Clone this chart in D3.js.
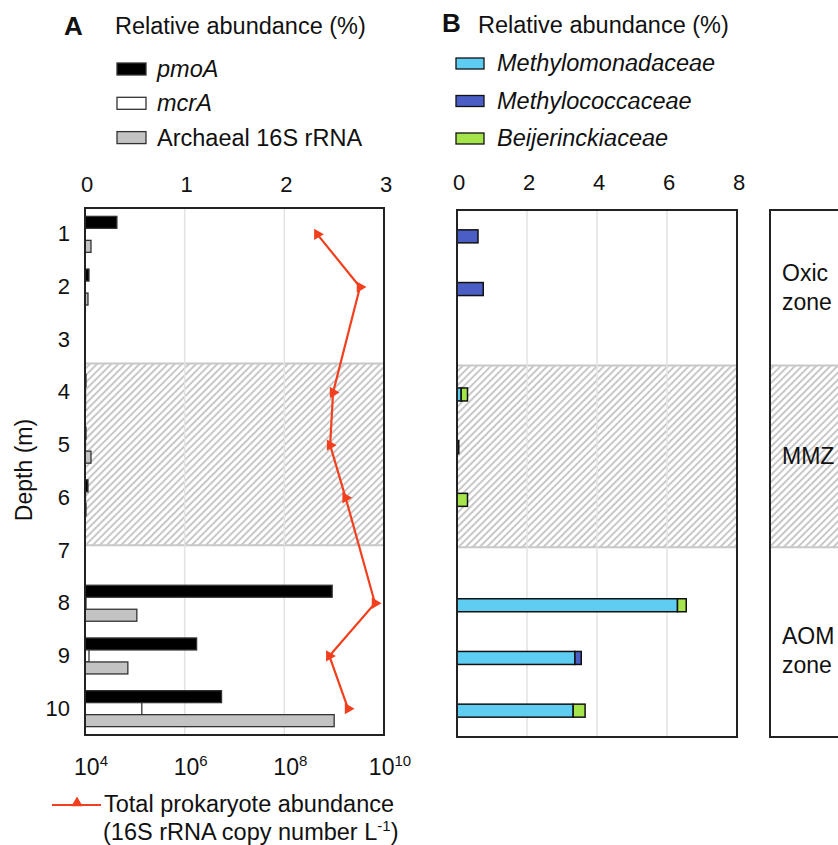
<!DOCTYPE html>
<html>
<head>
<meta charset="utf-8">
<script src="https://cdn.jsdelivr.net/npm/d3@7"></script>
<style>
body { margin: 0; background: #fff; }
#chart { width: 838px; height: 845px; }
text { font-family: Arial, "Liberation Sans", sans-serif; fill: #111; }
</style>
</head>
<body>
<div id="chart"></div>
<script>
var depths = [1, 2, 3, 4, 5, 6, 7, 8, 9, 10];

// panel A, relative abundance (%)
var pmoA     = [0.32, 0.04, null, 0.01, 0.01, 0.03, null, 2.48, 1.12, 1.37];
var mcrA     = [0, 0, null, 0.005, 0.005, 0.005, null, 0.01, 0.04, 0.57];
var archaeal = [0.06, 0.03, null, 0.005, 0.06, 0.01, null, 0.52, 0.43, 2.5];
// total prokaryote abundance (16S rRNA copies per L)
var prokaryote = [4.6e8, 3.3e9, null, 9.5e8, 8.3e8, 1.7e9, null, 6.6e9, 8.0e8, 1.9e9];

// panel B, relative abundance (%)
var methylomonadaceae = [0, 0, null, 0.12, 0, 0, null, 6.3, 3.37, 3.32];
var methylococcaceae  = [0.6, 0.75, null, 0, 0.05, 0, null, 0, 0.18, 0];
var beijerinckiaceae  = [0, 0, null, 0.18, 0, 0.3, null, 0.25, 0, 0.34];

var ticksA = [0, 1, 2, 3];
var ticksB = [0, 2, 4, 6, 8];
var logTicks = [4, 6, 8, 10];

var zoneLabels = [["Oxic", "zone"], ["MMZ"], ["AOM", "zone"]];
var zoneBounds = [0.5, 3.45, 6.9, 10.5];

var width = 838, height = 845;
var svg = d3.select("#chart").append("svg")
    .attr("width", width)
    .attr("height", height);

var defs = svg.append("defs");
var pat = defs.append("pattern")
    .attr("id", "hatch")
    .attr("patternUnits", "userSpaceOnUse")
    .attr("width", 5)
    .attr("height", 5)
    .attr("patternTransform", "rotate(45)");
pat.append("rect").attr("width", 5).attr("height", 5).attr("fill", "#fff");
pat.append("line")
    .attr("x1", 1).attr("y1", 0).attr("x2", 1).attr("y2", 5)
    .attr("stroke", "#c8c8c8").attr("stroke-width", 2);

// ---------- panel A ----------
var A = { left: 85, right: 384, top: 208, bottom: 735 };
var xA = d3.scaleLinear().domain([0, 3]).range([A.left, A.right]);
var xLog = d3.scaleLog().domain([1e4, 1e10]).range([A.left, A.right]);
var yA = d3.scaleLinear().domain([0.5, 10.5]).range([A.top, A.bottom]);

function hatchBand(g, y, x0, x1) {
    var y0 = y(zoneBounds[1]), y1 = y(zoneBounds[2]);
    g.append("rect")
        .attr("x", x0).attr("y", y0)
        .attr("width", x1 - x0).attr("height", y1 - y0)
        .attr("fill", "url(#hatch)");
    [y0, y1].forEach(function(yy) {
        g.append("line")
            .attr("x1", x0).attr("x2", x1)
            .attr("y1", yy).attr("y2", yy)
            .attr("stroke", "#c8c8c8").attr("stroke-width", 2);
    });
}

var gA = svg.append("g");
hatchBand(gA, yA, A.left, A.right);

gA.selectAll(".gridA")
    .data(ticksA.slice(1, -1))
    .enter().append("line")
    .attr("x1", function(d) { return xA(d); })
    .attr("x2", function(d) { return xA(d); })
    .attr("y1", A.top).attr("y2", A.bottom)
    .attr("stroke", "#e3e3e3").attr("stroke-width", 1.5);

var seriesA = [
    { name: "pmoA", values: pmoA, fill: "#000" },
    { name: "mcrA", values: mcrA, fill: "#fff" },
    { name: "archaeal", values: archaeal, fill: "#c3c3c3" }
];
var sub = d3.scaleBand().domain(seriesA.map(function(s) { return s.name; })).range([-18, 18]);

seriesA.forEach(function(s) {
    var pts = depths.map(function(d, i) { return { depth: d, v: s.values[i] }; })
        .filter(function(p) { return p.v !== null; });
    gA.selectAll(".bar-" + s.name)
        .data(pts)
        .enter().append("rect")
        .attr("x", xA(0))
        .attr("y", function(p) { return yA(p.depth) + sub(s.name); })
        .attr("width", function(p) { return xA(p.v) - xA(0); })
        .attr("height", sub.bandwidth())
        .attr("fill", s.fill)
        .attr("stroke", "#333")
        .attr("stroke-width", 1.3);
});

var linePts = depths.map(function(d, i) { return { depth: d, v: prokaryote[i] }; })
    .filter(function(p) { return p.v !== null; });

var lineGen = d3.line()
    .x(function(p) { return xLog(p.v); })
    .y(function(p) { return yA(p.depth); });

gA.append("path")
    .datum(linePts)
    .attr("d", lineGen)
    .attr("fill", "none")
    .attr("stroke", "#f2401e")
    .attr("stroke-width", 2.2);

var tri = d3.symbol().type(d3.symbolTriangle).size(55);
gA.selectAll(".marker")
    .data(linePts)
    .enter().append("path")
    .attr("d", tri)
    .attr("transform", function(p) { return "translate(" + xLog(p.v) + "," + yA(p.depth) + ") rotate(90)"; })
    .attr("fill", "#f2401e");

gA.append("rect")
    .attr("x", A.left).attr("y", A.top)
    .attr("width", A.right - A.left).attr("height", A.bottom - A.top)
    .attr("fill", "none").attr("stroke", "#222").attr("stroke-width", 2);

// top axis labels
gA.selectAll(".tickA")
    .data(ticksA)
    .enter().append("text")
    .attr("x", function(d) { return xA(d) + 2; })
    .attr("y", 192)
    .attr("text-anchor", "middle")
    .style("font-size", "22px")
    .text(function(d) { return d; });

// bottom log axis labels
var logLab = gA.selectAll(".tickLog")
    .data(logTicks)
    .enter().append("text")
    .attr("x", function(d) { return xLog(Math.pow(10, d)) + 6; })
    .attr("y", 775)
    .attr("text-anchor", "middle")
    .style("font-size", "23px");
logLab.append("tspan").text("10");
logLab.append("tspan")
    .attr("dy", -9)
    .style("font-size", "15px")
    .text(function(d) { return d; });

// depth labels
svg.selectAll(".depthLab")
    .data(depths)
    .enter().append("text")
    .attr("x", 70)
    .attr("y", function(d) { return yA(d) + 7; })
    .attr("text-anchor", "end")
    .style("font-size", "22px")
    .text(function(d) { return d; });

svg.append("text")
    .attr("transform", "translate(32,470) rotate(-90)")
    .attr("text-anchor", "middle")
    .style("font-size", "23px")
    .text("Depth (m)");

// legend A
svg.append("text").attr("x", 64).attr("y", 35)
    .style("font-size", "26px").style("font-weight", "bold").text("A");
svg.append("text").attr("x", 115).attr("y", 34)
    .style("font-size", "23.5px").text("Relative abundance (%)");

var legA = [
    { label: "pmoA", fill: "#000", italic: true },
    { label: "mcrA", fill: "#fff", italic: true },
    { label: "Archaeal 16S rRNA", fill: "#c3c3c3", italic: false }
];
legA.forEach(function(l, i) {
    var yy = 69 + i * 34.3;
    svg.append("rect").attr("x", 117).attr("y", yy - 6).attr("width", 29).attr("height", 12)
        .attr("fill", l.fill).attr("stroke", "#333").attr("stroke-width", 1.3);
    svg.append("text").attr("x", 157).attr("y", yy + 8)
        .style("font-size", "23.5px")
        .style("font-style", l.italic ? "italic" : "normal")
        .text(l.label);
});

// bottom legend for line
svg.append("line").attr("x1", 52).attr("x2", 101).attr("y1", 805).attr("y2", 805)
    .attr("stroke", "#f2401e").attr("stroke-width", 2.2);
svg.append("path").attr("d", tri)
    .attr("transform", "translate(77,803)")
    .attr("fill", "#f2401e");
svg.append("text").attr("x", 104).attr("y", 812)
    .style("font-size", "23.5px").text("Total prokaryote abundance");
var l2 = svg.append("text").attr("x", 103).attr("y", 840)
    .style("font-size", "23.5px");
l2.append("tspan").text("(16S rRNA copy number L");
l2.append("tspan").attr("dy", -9).style("font-size", "15px").text("-1");
l2.append("tspan").attr("dy", 9).text(")");

// ---------- panel B ----------
var B = { left: 457, right: 737, top: 210, bottom: 737 };
var xB = d3.scaleLinear().domain([0, 8]).range([B.left, B.right]);
var yB = d3.scaleLinear().domain([0.5, 10.5]).range([B.top, B.bottom]);

var gB = svg.append("g");
hatchBand(gB, yB, B.left, B.right);

gB.selectAll(".gridB")
    .data(ticksB.slice(1, -1))
    .enter().append("line")
    .attr("x1", function(d) { return xB(d); })
    .attr("x2", function(d) { return xB(d); })
    .attr("y1", B.top).attr("y2", B.bottom)
    .attr("stroke", "#e3e3e3").attr("stroke-width", 1.5);

var seriesB = [
    { name: "Methylomonadaceae", values: methylomonadaceae, fill: "#5fcdf2" },
    { name: "Methylococcaceae", values: methylococcaceae, fill: "#4a5ec6" },
    { name: "Beijerinckiaceae", values: beijerinckiaceae, fill: "#a6e44c" }
];

var tableB = depths.map(function(d, i) {
    var row = { depth: d };
    seriesB.forEach(function(s) { row[s.name] = s.values[i] || 0; });
    return row;
}).filter(function(r, i) { return methylomonadaceae[i] !== null; });

var stacked = d3.stack().keys(seriesB.map(function(s) { return s.name; }))(tableB);

stacked.forEach(function(layer, k) {
    gB.selectAll(".barB" + k)
        .data(layer.filter(function(seg) { return seg[1] - seg[0] > 0; }))
        .enter().append("rect")
        .attr("x", function(seg) { return xB(seg[0]); })
        .attr("y", function(seg) { return yB(seg.data.depth) - 6.5; })
        .attr("width", function(seg) { return xB(seg[1]) - xB(seg[0]); })
        .attr("height", 13)
        .attr("fill", seriesB[k].fill)
        .attr("stroke", "#111")
        .attr("stroke-width", 1.5);
});

gB.append("rect")
    .attr("x", B.left).attr("y", B.top)
    .attr("width", B.right - B.left).attr("height", B.bottom - B.top)
    .attr("fill", "none").attr("stroke", "#222").attr("stroke-width", 2);

gB.selectAll(".tickB")
    .data(ticksB)
    .enter().append("text")
    .attr("x", function(d) { return xB(d) + 2; })
    .attr("y", 190)
    .attr("text-anchor", "middle")
    .style("font-size", "22px")
    .text(function(d) { return d; });

svg.append("text").attr("x", 442).attr("y", 32)
    .style("font-size", "26px").style("font-weight", "bold").text("B");
svg.append("text").attr("x", 478).attr("y", 33)
    .style("font-size", "23.5px").text("Relative abundance (%)");

seriesB.forEach(function(s, i) {
    var yy = 63 + i * 37.5;
    svg.append("rect").attr("x", 456).attr("y", yy - 5).attr("width", 28).attr("height", 11)
        .attr("fill", s.fill).attr("stroke", "#111").attr("stroke-width", 1.3);
    svg.append("text").attr("x", 497).attr("y", yy + 8)
        .style("font-size", "23.5px").style("font-style", "italic")
        .text(s.name);
});

// ---------- zone panel ----------
var C = { left: 770, right: 860, top: 210, bottom: 737 };
var yC = d3.scaleLinear().domain([0.5, 10.5]).range([C.top, C.bottom]);
var gC = svg.append("g");
hatchBand(gC, yC, C.left, C.right);
gC.append("rect")
    .attr("x", C.left).attr("y", C.top)
    .attr("width", C.right - C.left).attr("height", C.bottom - C.top)
    .attr("fill", "none").attr("stroke", "#222").attr("stroke-width", 2);

zoneLabels.forEach(function(lines, i) {
    var mid = (yC(zoneBounds[i]) + yC(zoneBounds[i + 1])) / 2;
    if (i === 2) mid += 8;
    lines.forEach(function(t, j) {
        gC.append("text")
            .attr("x", 782)
            .attr("y", mid + 8 + (j - (lines.length - 1) / 2) * 29)
            .style("font-size", "23px")
            .text(t);
    });
});
</script>
</body>
</html>
